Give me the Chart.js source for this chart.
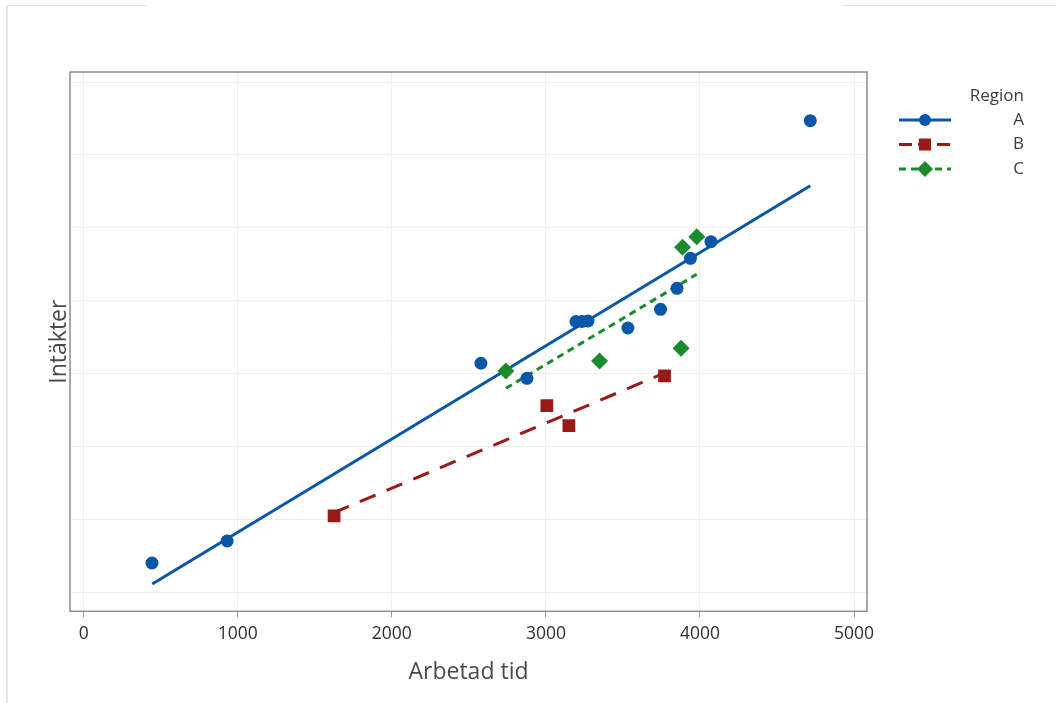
<!DOCTYPE html>
<html lang="sv">
<head>
  <meta charset="UTF-8">
  <title>Intäkter mot arbetad tid</title>
  <script src="https://cdn.jsdelivr.net/npm/chart.js"></script>
  <style>
    body { margin: 0; background: #fff; }
    #wrap { position: relative; width: 1056px; height: 703px; }
    #chart { position: absolute; left: 0; top: 0; }
    .edge { position: absolute; background: #e4e4e4; }
  </style>
</head>
<body>
<div id="wrap">
  <div class="edge" style="left:6px;top:5px;width:2px;height:698px"></div>
  <div class="edge" style="left:6px;top:5px;width:141px;height:1px"></div>
  <div class="edge" style="left:842px;top:5px;width:214px;height:1px"></div>
  <canvas id="chart" width="1056" height="703"></canvas>
</div>
<script>
// data (y has no tick labels, so units are arbitrary)
const regions = ['A', 'B', 'C'];

const timeA = [443, 931, 2578, 2877, 3195, 3234, 3273, 3532, 3744, 3851, 3938, 4071, 4716];
const incomeA = [411, 712, 3147, 2941, 3719, 3719, 3726, 3630, 3886, 4174, 4585, 4812, 6470];
const timeB = [1625, 3006, 3149, 3770];
const incomeB = [1055, 2566, 2292, 2973];
const timeC = [2740, 3348, 3877, 3887, 3979];
const incomeC = [3041, 3178, 3352, 4736, 4881];

// fitted lines, end points
const fitTimeA = [445, 4716];
const fitIncomeA = [123, 5579];
const fitTimeB = [1619, 3770];
const fitIncomeB = [1096, 3014];
const fitTimeC = [2740, 3979];
const fitIncomeC = [2804, 4366];

const xTicks = [0, 1000, 2000, 3000, 4000, 5000];
const yGrid = [0, 1000, 2000, 3000, 4000, 5000, 6000, 7000];

const blue = '#0a56a8', red = '#9a1a1a', green = '#1a8a2c';
const font = "'Open Sans', 'DejaVu Sans', sans-serif";

function pts(xs, ys) {
  return xs.map((x, i) => ({ x: x, y: ys[i] }));
}

const styles = [
  { color: blue, dash: [], legendDash: [], marker: 'circle', radius: 6.5 },
  { color: red, dash: [17, 12], legendDash: [13, 6], marker: 'rect', radius: 9 },
  { color: green, dash: [7, 5], legendDash: [7, 5], marker: 'rectRot', radius: 8.5 }
];

const pointSets = [pts(timeA, incomeA), pts(timeB, incomeB), pts(timeC, incomeC)];
const fitSets = [pts(fitTimeA, fitIncomeA), pts(fitTimeB, fitIncomeB), pts(fitTimeC, fitIncomeC)];

const datasets = [];
regions.forEach((r, i) => {
  const s = styles[i];
  datasets.push({
    label: r + ' fit',
    data: fitSets[i],
    showLine: true,
    borderColor: s.color,
    borderWidth: 3,
    borderDash: s.dash,
    pointRadius: 0,
    order: 2
  });
  datasets.push({
    label: r,
    data: pointSets[i],
    backgroundColor: s.color,
    borderColor: s.color,
    borderWidth: 0,
    pointStyle: s.marker,
    pointRadius: s.radius,
    order: 1
  });
});

// frame round the plot area + legend with line and marker
const extras = {
  id: 'extras',
  afterDraw(chart) {
    const ctx = chart.ctx;
    const a = chart.chartArea;
    ctx.save();
    ctx.strokeStyle = '#8c8c8c';
    ctx.lineWidth = 1.5;
    ctx.strokeRect(a.left, a.top, a.right - a.left, a.bottom - a.top);

    ctx.fillStyle = '#3c3c3c';
    ctx.font = '17px ' + font;
    ctx.textAlign = 'right';
    ctx.textBaseline = 'middle';
    ctx.fillText('Region', 1024, 96);
    regions.forEach((r, i) => {
      const s = styles[i];
      const y = 120 + i * 24.5;
      ctx.strokeStyle = s.color;
      ctx.lineWidth = 3;
      ctx.setLineDash(s.legendDash);
      ctx.beginPath();
      ctx.moveTo(899, y);
      ctx.lineTo(951, y);
      ctx.stroke();
      ctx.setLineDash([]);
      ctx.fillStyle = s.color;
      Chart.helpers.drawPoint(ctx, { pointStyle: s.marker, radius: s.radius - 0.5, rotation: 0, borderWidth: 0 }, 925, y);
      ctx.fillStyle = '#3c3c3c';
      ctx.fillText(r, 1024, y);
    });
    ctx.restore();
  }
};

new Chart(document.getElementById('chart'), {
  type: 'scatter',
  data: { datasets: datasets },
  options: {
    responsive: false,
    animation: false,
    layout: { padding: { top: 72, right: 189, left: 0, bottom: 0 } },
    plugins: { legend: { display: false }, tooltip: { enabled: false } },
    scales: {
      x: {
        min: -89,
        max: 5084,
        afterBuildTicks: s => { s.ticks = xTicks.map(v => ({ value: v })); },
        afterFit: s => { s.height = 91.7; },
        grid: { color: '#eeeeee', lineWidth: 1, tickColor: '#999', tickLength: 6 },
        border: { display: false },
        ticks: {
          color: '#2e2e2e',
          font: { family: font, size: 17.5 },
          padding: 6,
          maxRotation: 0,
          callback: v => String(v)
        },
        title: { display: true, text: 'Arbetad tid', color: '#4a4a4a', font: { family: font, size: 23 }, padding: { top: 0, bottom: 17 } }
      },
      y: {
        min: -251,
        max: 7137,
        afterBuildTicks: s => { s.ticks = yGrid.map(v => ({ value: v })); },
        afterFit: s => { s.width = 70; },
        grid: { color: '#eeeeee', lineWidth: 1, drawTicks: false },
        border: { display: false },
        ticks: { display: false },
        title: { display: true, text: 'Intäkter', color: '#4a4a4a', font: { family: font, size: 23 }, padding: { top: 46, bottom: 0 } }
      }
    }
  },
  plugins: [extras]
});
</script>
</body>
</html>
